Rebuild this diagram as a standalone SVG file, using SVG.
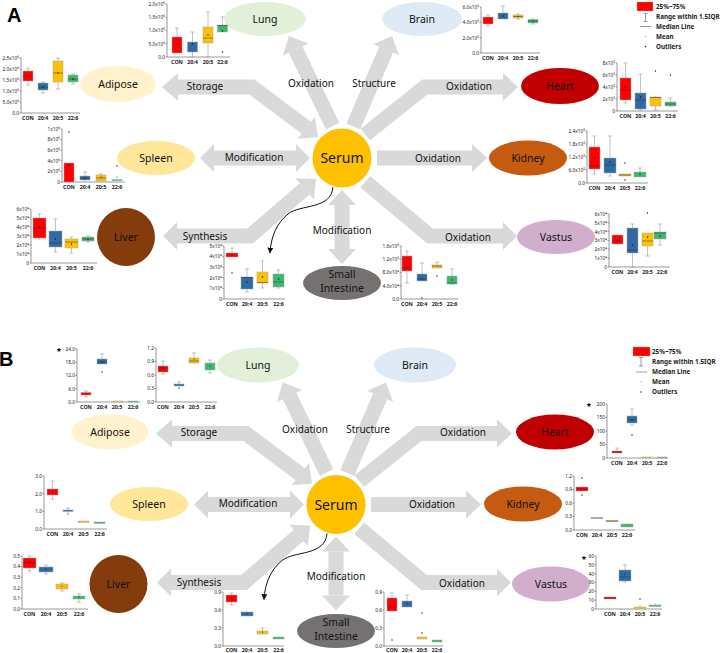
<svg xmlns="http://www.w3.org/2000/svg" width="721" height="653" viewBox="0 0 721 653">
<defs>
<marker id="ah" viewBox="0 0 10 10" refX="9" refY="5" markerWidth="6" markerHeight="6" markerUnits="userSpaceOnUse" orient="auto">
<path d="M0,0L10,5L0,10z" fill="#111"/>
</marker>
</defs>
<style>
text{font-family:"Noto Sans","DejaVu Sans",sans-serif}
.sh{fill:none;stroke:#d9d9d9;stroke-width:15;stroke-linejoin:miter;stroke-miterlimit:10}
.ah{fill:#d9d9d9}
.cv{fill:none;stroke:#111;stroke-width:1}
.lb{font-size:10px;fill:#111;text-anchor:middle}
.nl{font-size:10.5px;fill:#111;text-anchor:middle}
.sr{font-size:14px;fill:#111;text-anchor:middle}
.pl{font-family:"Liberation Sans",Arial,sans-serif;font-size:20px;font-weight:bold;fill:#000}
.ax{fill:none;stroke:#555;stroke-width:0.6}
.tk{font-size:4.8px;fill:#222;text-anchor:end}
.ct{font-size:5.3px;fill:#222;text-anchor:middle;font-weight:bold}
.w{fill:none;stroke:#9a9a9a;stroke-width:0.6}
.bx{stroke:#a8a8a8;stroke-width:0.5}
.c0{fill:#ff0000}.c1{fill:#2f6aa5}.c2{fill:#ffc000}.c3{fill:#3cb96b}
.md{stroke:#333;stroke-width:0.5}
.dt{fill:#111}
.lg{font-size:6.3px;font-weight:bold;fill:#222}
.st{font-size:6.5px;fill:#111;text-anchor:middle}
</style>
<rect width="721" height="653" fill="#fff"/>
<text class="pl" x="7" y="22">A</text>
<text class="pl" x="-1" y="366">B</text>

<g id="connectors-a">
<path class="sh" d="M306.2,127.8L252,87L178,87"/><polygon class="ah" points="162,87 178,73 178,101"/><polygon class="ah" points="318,137 297.6,138.8 314.8,116.8"/>
<path class="sh" d="M332.6,126L295.5,49.5"/><polygon class="ah" points="289,36 308.1,43.4 282.9,55.6"/>
<path class="sh" d="M353.3,126.5L386.1,49.8"/><polygon class="ah" points="392,36 399,55.3 373.2,44.3"/>
<path class="sh" d="M365.3,134.5L425,87L503,87"/><polygon class="ah" points="518,87 503,73 503,101"/>
<path class="sh" d="M214,158L296,158"/><polygon class="ah" points="200,158 214,144 214,172"/><polygon class="ah" points="310,158 296,144 296,172"/>
<path class="sh" d="M377,158L472,158"/><polygon class="ah" points="487,158 472,144 472,172"/>
<path class="sh" d="M365.2,181.8L430,236L503,236"/><polygon class="ah" points="517,236 503,222 503,250"/>
<path class="sh" d="M304.6,188.8L250,236L177,236"/><polygon class="ah" points="163,236 177,222 177,250"/><polygon class="ah" points="316,179 313.8,199.4 295.4,178.2"/>
<path class="sh" d="M342,205V249"/><polygon class="ah" points="342,190 328,205 356,205"/><polygon class="ah" points="342,264 328,249 356,249"/>
<path class="cv" d="M333,187C331,210 300,204 288,214C277,223 271,236 270,253" marker-end="url(#ah)"/>
<text class="lb" x="205" y="89.5">Storage</text>
<text class="lb" x="311" y="86.5">Oxidation</text>
<text class="lb" x="374" y="86.5">Structure</text>
<text class="lb" x="469" y="89.5">Oxidation</text>
<text class="lb" x="254" y="160.5">Modification</text>
<text class="lb" x="438" y="161.5">Oxidation</text>
<text class="lb" x="205" y="239.5">Synthesis</text>
<text class="lb" x="468" y="240.5">Oxidation</text>
<text class="lb" x="342" y="233.5">Modification</text>
</g>

<g id="connectors-b" transform="translate(-6,346.5)">
<path class="sh" d="M306.2,127.8L252,87L178,87"/><polygon class="ah" points="162,87 178,73 178,101"/><polygon class="ah" points="318,137 297.6,138.8 314.8,116.8"/>
<path class="sh" d="M332.6,126L295.5,49.5"/><polygon class="ah" points="289,36 308.1,43.4 282.9,55.6"/>
<path class="sh" d="M353.3,126.5L386.1,49.8"/><polygon class="ah" points="392,36 399,55.3 373.2,44.3"/>
<path class="sh" d="M365.3,134.5L425,87L503,87"/><polygon class="ah" points="518,87 503,73 503,101"/>
<path class="sh" d="M214,158L296,158"/><polygon class="ah" points="200,158 214,144 214,172"/><polygon class="ah" points="310,158 296,144 296,172"/>
<path class="sh" d="M377,158L472,158"/><polygon class="ah" points="487,158 472,144 472,172"/>
<path class="sh" d="M365.2,181.8L430,236L503,236"/><polygon class="ah" points="517,236 503,222 503,250"/>
<path class="sh" d="M304.6,188.8L250,236L177,236"/><polygon class="ah" points="163,236 177,222 177,250"/><polygon class="ah" points="316,179 313.8,199.4 295.4,178.2"/>
<path class="sh" d="M342,205V249"/><polygon class="ah" points="342,190 328,205 356,205"/><polygon class="ah" points="342,264 328,249 356,249"/>
<path class="cv" d="M333,187C331,210 300,204 288,214C277,223 271,236 270,253" marker-end="url(#ah)"/>
<text class="lb" x="205" y="89.5">Storage</text>
<text class="lb" x="311" y="86.5">Oxidation</text>
<text class="lb" x="374" y="86.5">Structure</text>
<text class="lb" x="469" y="89.5">Oxidation</text>
<text class="lb" x="254" y="160.5">Modification</text>
<text class="lb" x="438" y="161.5">Oxidation</text>
<text class="lb" x="205" y="239.5">Synthesis</text>
<text class="lb" x="468" y="240.5">Oxidation</text>
<text class="lb" x="342" y="233.5">Modification</text>
</g>

<!-- Nodes A -->
<g id="node-a-lung"><ellipse cx="265" cy="19" rx="41" ry="17" fill="#e2f0d9"/><text class="nl" x="265" y="22.7">Lung</text></g>
<g id="node-a-brain"><ellipse cx="422" cy="19" rx="40" ry="17" fill="#deebf7"/><text class="nl" x="422" y="22.7">Brain</text></g>
<g id="node-a-adipose"><ellipse cx="118" cy="84" rx="38" ry="18" fill="#fff2cc"/><text class="nl" x="118" y="87.7">Adipose</text></g>
<g id="node-a-spleen"><ellipse cx="156" cy="158" rx="39" ry="17" fill="#ffe699"/><text class="nl" x="156" y="161.7">Spleen</text></g>
<g id="node-a-liver"><circle cx="126" cy="237" r="29" fill="#843c0c"/><text class="nl" x="126" y="240.7">Liver</text></g>
<g id="node-a-heart"><ellipse cx="560" cy="86" rx="39" ry="18" fill="#c00000"/><text class="nl" x="560" y="89.7">Heart</text></g>
<g id="node-a-kidney"><ellipse cx="528" cy="158" rx="39" ry="17.5" fill="#c55a11"/><text class="nl" x="528" y="161.7">Kidney</text></g>
<g id="node-a-vastus"><ellipse cx="556" cy="237" rx="39" ry="17" fill="#d0aecc"/><text class="nl" x="556" y="240.7">Vastus</text></g>
<g id="node-a-small-intestine"><ellipse cx="342" cy="283" rx="39" ry="17" fill="#767171"/><text class="nl" x="342" y="278">Small</text><text class="nl" x="342" y="292">Intestine</text></g>
<g id="node-a-serum"><circle cx="342" cy="158" r="29.5" fill="#ffc000"/><text class="sr" x="342" y="163">Serum</text></g>

<!-- Nodes B -->
<g id="node-b-lung"><ellipse cx="258" cy="365" rx="41" ry="17.5" fill="#e2f0d9"/><text class="nl" x="258" y="368.7">Lung</text></g>
<g id="node-b-brain"><ellipse cx="415" cy="365" rx="41" ry="17.5" fill="#deebf7"/><text class="nl" x="415" y="368.7">Brain</text></g>
<g id="node-b-adipose"><ellipse cx="110" cy="432" rx="38.5" ry="17.5" fill="#fff2cc"/><text class="nl" x="110" y="435.7">Adipose</text></g>
<g id="node-b-spleen"><ellipse cx="149" cy="504" rx="39" ry="17" fill="#ffe699"/><text class="nl" x="149" y="507.7">Spleen</text></g>
<g id="node-b-liver"><circle cx="118.5" cy="584" r="29" fill="#843c0c"/><text class="nl" x="118.5" y="587.7">Liver</text></g>
<g id="node-b-heart"><ellipse cx="555" cy="432" rx="39" ry="17.5" fill="#c00000"/><text class="nl" x="555" y="435.7">Heart</text></g>
<g id="node-b-kidney"><ellipse cx="523" cy="504" rx="39" ry="17.5" fill="#c55a11"/><text class="nl" x="523" y="507.7">Kidney</text></g>
<g id="node-b-vastus"><ellipse cx="551" cy="584" rx="39" ry="17.5" fill="#d0aecc"/><text class="nl" x="551" y="587.7">Vastus</text></g>
<g id="node-b-small-intestine"><ellipse cx="336" cy="631" rx="39" ry="17" fill="#767171"/><text class="nl" x="336" y="626">Small</text><text class="nl" x="336" y="640">Intestine</text></g>
<g id="node-b-serum"><circle cx="336" cy="504.5" r="29.5" fill="#ffc000"/><text class="sr" x="336" y="509.5">Serum</text></g>

<!-- Charts A -->
<g id="chart-a-lung">
<path class="ax" d="M167,4V57H230M165.5,4h1.5M165.5,17.25h1.5M165.5,30.5h1.5M165.5,43.75h1.5M165.5,57h1.5"/>
<text class="tk" x="165" y="5.8">2.0x10⁶</text><text class="tk" x="165" y="19">1.5x10⁶</text><text class="tk" x="165" y="32.3">1.0x10⁶</text><text class="tk" x="165" y="45.5">5.0x10⁵</text><text class="tk" x="165" y="58.8">0.0</text>
<text class="ct" x="177" y="64">CON</text><text class="ct" x="192.5" y="64">20:4</text><text class="ct" x="208" y="64">20:5</text><text class="ct" x="222.5" y="64">22:6</text>
<path class="w" d="M177,28V37M175,28h4M192.5,32V57M190.5,32h4M190.5,57h4M208,12V57M206,12h4M206,57h4M222.5,17V25M220.5,17h4"/>
<rect class="bx c0" x="172" y="37" width="10" height="16"/><rect class="bx c1" x="187.5" y="42" width="10" height="10"/><rect class="bx c2" x="203" y="27" width="10" height="16"/><rect class="bx c3" x="217.5" y="25" width="10" height="7"/>
<path class="md" d="M203,38h10M217.5,25.5h10"/>
<g class="dt"><circle cx="177" cy="44" r="0.7"/><circle cx="192.5" cy="44" r="0.7"/><circle cx="208" cy="35" r="0.7"/><circle cx="222.5" cy="31" r="0.7"/><circle cx="222.5" cy="52" r="0.7"/></g>
</g>

<g id="chart-a-adipose">
<path class="ax" d="M21,58V113H80M19.5,58h1.5M19.5,69h1.5M19.5,80h1.5M19.5,91h1.5M19.5,102h1.5M19.5,113h1.5"/>
<text class="tk" x="19" y="59.8">2.5x10⁶</text><text class="tk" x="19" y="70.8">2.0x10⁶</text><text class="tk" x="19" y="81.8">1.5x10⁶</text><text class="tk" x="19" y="92.8">1.0x10⁶</text><text class="tk" x="19" y="103.8">5.0x10⁵</text><text class="tk" x="19" y="114.8">0.0</text>
<text class="ct" x="28" y="119.5">CON</text><text class="ct" x="43" y="119.5">20:4</text><text class="ct" x="58" y="119.5">20:5</text><text class="ct" x="73" y="119.5">22:6</text>
<path class="w" d="M28,68V85M26,68h4M26,85h4M43,82V93M41,82h4M41,93h4M58,58V89M56,58h4M56,89h4M73,74V84M71,74h4M71,84h4"/>
<rect class="bx c0" x="23" y="71" width="10" height="10"/><rect class="bx c1" x="38" y="83" width="10" height="7"/><rect class="bx c2" x="53" y="61" width="10" height="21"/><rect class="bx c3" x="68" y="75" width="10" height="7"/>
<path class="md" d="M23,76h10M38,87h10M53,73h10M68,79h10"/>
<g class="dt"><circle cx="28" cy="76" r="0.7"/><circle cx="43" cy="87" r="0.7"/><circle cx="58" cy="73" r="0.7"/><circle cx="73" cy="79" r="0.7"/></g>
</g>

<g id="chart-a-brain">
<path class="ax" d="M481,7V53H540M479.5,7h1.5M479.5,22.3h1.5M479.5,37.7h1.5M479.5,53h1.5"/>
<text class="tk" x="479" y="8.8">6.0x10⁵</text><text class="tk" x="479" y="24.1">4.0x10⁵</text><text class="tk" x="479" y="39.5">2.0x10⁵</text><text class="tk" x="479" y="54.8">0.0</text>
<text class="ct" x="488" y="59.5">CON</text><text class="ct" x="503" y="59.5">20:4</text><text class="ct" x="518" y="59.5">20:5</text><text class="ct" x="533" y="59.5">22:6</text>
<path class="w" d="M488,15V26M486,15h4M486,26h4M503,6V19M501,6h4M518,14V19M516,14h4M516,19h4M533,19V24M531,19h4M531,24h4"/>
<rect class="bx c0" x="483" y="17" width="10" height="7"/><rect class="bx c1" x="498" y="13" width="10" height="6"/><rect class="bx c2" x="513" y="15" width="10" height="3"/><rect class="bx c3" x="528" y="19.5" width="10" height="3.5"/>
<path class="md" d="M513,16.5h10M528,21h10"/>
<g class="dt"><circle cx="488" cy="21" r="0.7"/><circle cx="503" cy="16" r="0.7"/><circle cx="518" cy="16.5" r="0.6"/><circle cx="533" cy="21" r="0.6"/></g>
</g>

<g id="chart-a-heart">
<path class="ax" d="M617,63V111H678M615.5,63h1.5M615.5,75h1.5M615.5,87h1.5M615.5,99h1.5M615.5,111h1.5"/>
<text class="tk" x="615" y="64.8">8x10³</text><text class="tk" x="615" y="76.8">6x10³</text><text class="tk" x="615" y="88.8">4x10³</text><text class="tk" x="615" y="100.8">2x10³</text><text class="tk" x="615" y="112.8">0</text>
<text class="ct" x="625.5" y="117.5">CON</text><text class="ct" x="640.5" y="117.5">20:4</text><text class="ct" x="655.5" y="117.5">20:5</text><text class="ct" x="670.5" y="117.5">22:6</text>
<path class="w" d="M625.5,63V103M623.5,63h4M623.5,103h4M640.5,74V110M638.5,74h4M638.5,110h4M655.5,96V110M653.5,110h4M670.5,98V107M668.5,98h4"/>
<rect class="bx c0" x="620" y="78" width="11" height="22"/><rect class="bx c1" x="635" y="93" width="11" height="16"/><rect class="bx c2" x="650" y="97" width="11" height="9"/><rect class="bx c3" x="665" y="102" width="11" height="4"/>
<path class="md" d="M620,90h11M635,100h11M650,97.5h11M665,104h11"/>
<g class="dt"><circle cx="625.5" cy="87" r="0.7"/><circle cx="640.5" cy="97" r="0.7"/><circle cx="655.5" cy="71" r="0.7"/><circle cx="670.5" cy="75" r="0.7"/></g>
</g>

<g id="chart-a-spleen">
<path class="ax" d="M62,129V182H125M60.5,129h1.5M60.5,139.6h1.5M60.5,150.2h1.5M60.5,160.8h1.5M60.5,171.4h1.5M60.5,182h1.5"/>
<text class="tk" x="60" y="130.8">1x10⁶</text><text class="tk" x="60" y="141.4">8x10⁵</text><text class="tk" x="60" y="152">6x10⁵</text><text class="tk" x="60" y="162.6">4x10⁵</text><text class="tk" x="60" y="173.2">2x10⁵</text><text class="tk" x="60" y="183.8">0</text>
<text class="ct" x="69" y="188.5">CON</text><text class="ct" x="85" y="188.5">20:4</text><text class="ct" x="101" y="188.5">20:5</text><text class="ct" x="117" y="188.5">22:6</text>
<path class="w" d="M85,172V182M83,172h4M101,174V182M99,174h4"/>
<rect class="bx c0" x="64" y="163" width="10" height="19"/><rect class="bx c1" x="80" y="176" width="10" height="4"/><rect class="bx c2" x="96" y="175" width="10" height="6"/><rect class="bx c3" x="112" y="179.5" width="10" height="1.2"/>
<path class="md" d="M80,178h10M96,178h10"/>
<g class="dt"><circle cx="69" cy="165" r="0.7"/><circle cx="69" cy="132" r="0.7"/><circle cx="85" cy="178" r="0.6"/><circle cx="101" cy="177" r="0.6"/><circle cx="117" cy="166" r="0.7"/><circle cx="117" cy="177" r="0.6"/></g>
</g>

<g id="chart-a-liver">
<path class="ax" d="M31,209V263H97M29.5,209h1.5M29.5,218h1.5M29.5,227h1.5M29.5,236h1.5M29.5,245h1.5M29.5,254h1.5M29.5,263h1.5"/>
<text class="tk" x="29" y="210.8">6x10⁴</text><text class="tk" x="29" y="219.8">5x10⁴</text><text class="tk" x="29" y="228.8">4x10⁴</text><text class="tk" x="29" y="237.8">3x10⁴</text><text class="tk" x="29" y="246.8">2x10⁴</text><text class="tk" x="29" y="255.8">1x10⁴</text><text class="tk" x="29" y="264.8">0</text>
<text class="ct" x="39.5" y="269.5">CON</text><text class="ct" x="55.5" y="269.5">20:4</text><text class="ct" x="71.5" y="269.5">20:5</text><text class="ct" x="88" y="269.5">22:6</text>
<path class="w" d="M39.5,214V239M37.5,214h4M37.5,239h4M55.5,219V252M53.5,219h4M53.5,252h4M71.5,237V253M69.5,237h4M69.5,253h4M88,236V242M86,236h4M86,242h4"/>
<rect class="bx c0" x="33" y="218" width="13" height="20"/><rect class="bx c1" x="49" y="231" width="13" height="16"/><rect class="bx c2" x="65" y="239" width="13" height="9"/><rect class="bx c3" x="82" y="237" width="12" height="4"/>
<path class="md" d="M33,228h13M49,243h13M65,242h13M82,239h12"/>
<g class="dt"><circle cx="39.5" cy="227" r="0.7"/><circle cx="55.5" cy="239" r="0.7"/><circle cx="71.5" cy="244" r="0.7"/><circle cx="88" cy="239" r="0.6"/></g>
</g>

<g id="chart-a-small-intestine-1">
<path class="ax" d="M224,246V299H285M222.5,246h1.5M222.5,256.6h1.5M222.5,267.2h1.5M222.5,277.8h1.5M222.5,288.4h1.5M222.5,299h1.5"/>
<text class="tk" x="222" y="247.8">5x10⁴</text><text class="tk" x="222" y="258.4">4x10⁴</text><text class="tk" x="222" y="269">3x10⁴</text><text class="tk" x="222" y="279.6">2x10⁴</text><text class="tk" x="222" y="290.2">1x10⁴</text><text class="tk" x="222" y="300.8">0</text>
<text class="ct" x="232" y="305.5">CON</text><text class="ct" x="247" y="305.5">20:4</text><text class="ct" x="262.5" y="305.5">20:5</text><text class="ct" x="278.5" y="305.5">22:6</text>
<path class="w" d="M232,248V253M230,248h4M247,269V292M245,269h4M245,292h4M262.5,261V288M260.5,261h4M260.5,288h4M278.5,270V288M276.5,270h4M276.5,288h4"/>
<rect class="bx c0" x="226" y="253" width="12" height="4"/><rect class="bx c1" x="241" y="277" width="12" height="12"/><rect class="bx c2" x="257" y="272" width="11" height="11"/><rect class="bx c3" x="273" y="274" width="11" height="13"/>
<path class="md" d="M241,277.5h12M257,282.5h11M273,282h11"/>
<g class="dt"><circle cx="232" cy="255" r="0.6"/><circle cx="232" cy="273" r="0.7"/><circle cx="247" cy="282" r="0.7"/><circle cx="262.5" cy="277" r="0.7"/><circle cx="278.5" cy="279" r="0.7"/></g>
</g>

<g id="chart-a-small-intestine-2">
<path class="ax" d="M401,246V299H458M399.5,246h1.5M399.5,259.25h1.5M399.5,272.5h1.5M399.5,285.75h1.5M399.5,299h1.5"/>
<text class="tk" x="399" y="247.8">1.6x10⁵</text><text class="tk" x="399" y="261">1.2x10⁵</text><text class="tk" x="399" y="274.3">8.0x10⁴</text><text class="tk" x="399" y="287.5">4.0x10⁴</text><text class="tk" x="399" y="300.8">0.0</text>
<text class="ct" x="407" y="305.5">CON</text><text class="ct" x="422" y="305.5">20:4</text><text class="ct" x="437" y="305.5">20:5</text><text class="ct" x="452" y="305.5">22:6</text>
<path class="w" d="M407,251V283M405,251h4M405,283h4M422,263V274M420,263h4M437,262V268M435,262h4M452,269V284M450,269h4M450,284h4"/>
<rect class="bx c0" x="402" y="256" width="10" height="15"/><rect class="bx c1" x="417" y="274" width="10" height="7"/><rect class="bx c2" x="432" y="265" width="10" height="3"/><rect class="bx c3" x="447" y="276" width="10" height="8"/>
<path class="md" d="M402,268h10M417,279h10M432,266h10M447,283h10"/>
<g class="dt"><circle cx="407" cy="266" r="0.7"/><circle cx="422" cy="279" r="0.6"/><circle cx="422" cy="298" r="0.7"/><circle cx="437" cy="276" r="0.7"/><circle cx="452" cy="280" r="0.7"/></g>
</g>

<g id="chart-a-kidney">
<path class="ax" d="M587,131V183H648M585.5,131h1.5M585.5,144h1.5M585.5,157h1.5M585.5,170h1.5M585.5,183h1.5"/>
<text class="tk" x="585" y="132.8">2.4x10³</text><text class="tk" x="585" y="145.8">1.8x10³</text><text class="tk" x="585" y="158.8">1.2x10³</text><text class="tk" x="585" y="171.8">6.0x10²</text><text class="tk" x="585" y="184.8">0.0</text>
<text class="ct" x="594.5" y="189.5">CON</text><text class="ct" x="610" y="189.5">20:4</text><text class="ct" x="625" y="189.5">20:5</text><text class="ct" x="640" y="189.5">22:6</text>
<path class="w" d="M594.5,136V174M592.5,136h4M592.5,174h4M610,136V176M608,136h4M608,176h4M640,168V177M638,168h4"/>
<rect class="bx c0" x="589" y="147" width="11" height="22"/><rect class="bx c1" x="604" y="158" width="12" height="15"/><rect class="bx c2" x="619" y="174" width="12" height="2"/><rect class="bx c3" x="634" y="172" width="12" height="5"/>
<path class="md" d="M589,166h11M604,165h12M619,175h12"/>
<g class="dt"><circle cx="594.5" cy="158" r="0.7"/><circle cx="610" cy="162" r="0.7"/><circle cx="625" cy="163" r="0.7"/><circle cx="625" cy="180" r="0.7"/><circle cx="640" cy="174" r="0.7"/></g>
</g>

<g id="chart-a-vastus">
<path class="ax" d="M609,214V267H670M607.5,214h1.5M607.5,222.8h1.5M607.5,231.7h1.5M607.5,240.5h1.5M607.5,249.3h1.5M607.5,258.2h1.5M607.5,267h1.5"/>
<text class="tk" x="607" y="215.8">6x10⁴</text><text class="tk" x="607" y="224.6">5x10⁴</text><text class="tk" x="607" y="233.5">4x10⁴</text><text class="tk" x="607" y="242.3">3x10⁴</text><text class="tk" x="607" y="251.1">2x10⁴</text><text class="tk" x="607" y="260">1x10⁴</text><text class="tk" x="607" y="268.8">0</text>
<text class="ct" x="617.5" y="273.5">CON</text><text class="ct" x="632.5" y="273.5">20:4</text><text class="ct" x="647.5" y="273.5">20:5</text><text class="ct" x="662" y="273.5">22:6</text>
<path class="w" d="M632.5,224V267M630.5,224h4M630.5,267h4M647.5,233V256M645.5,256h4M660,224V245M658,224h4M658,245h4"/>
<rect class="bx c0" x="612" y="235" width="11" height="9"/><rect class="bx c1" x="627" y="228" width="11" height="25"/><rect class="bx c2" x="642" y="233" width="11" height="13"/><rect class="bx c3" x="654" y="232" width="12" height="7"/>
<path class="md" d="M612,241h11M627,250h11M642,241h11M654,233h12"/>
<g class="dt"><circle cx="617.5" cy="240" r="0.7"/><circle cx="632.5" cy="245" r="0.7"/><circle cx="647.5" cy="237" r="0.7"/><circle cx="647.5" cy="213" r="0.7"/><circle cx="660" cy="236" r="0.7"/></g>
</g>

<g id="legend-a">
<rect x="637" y="2" width="16" height="9" fill="#ff0000" stroke="#aaa" stroke-width="0.4"/>
<path d="M645.5,13.5V21.5M643.5,13.5h4M643.5,21.5h4M640,26.5h11" fill="none" stroke="#777" stroke-width="0.7"/>
<circle cx="645.5" cy="36.5" r="0.6" fill="#777"/><circle cx="645.5" cy="46.5" r="0.7" fill="#111"/>
<text class="lg" x="656" y="9">25%~75%</text><text class="lg" x="656" y="19">Range within 1.5IQR</text><text class="lg" x="656" y="29">Median Line</text><text class="lg" x="656" y="39">Mean</text><text class="lg" x="656" y="49">Outliers</text>
</g>

<!-- Charts B -->
<g id="chart-b-adipose">
<text class="st" x="59" y="352">★</text>
<path class="ax" d="M77,349V402H140M75.5,349h1.5M75.5,362.25h1.5M75.5,375.5h1.5M75.5,388.75h1.5M75.5,402h1.5"/>
<text class="tk" x="75" y="350.8">24.0</text><text class="tk" x="75" y="364">18.0</text><text class="tk" x="75" y="377.3">12.0</text><text class="tk" x="75" y="390.5">6.0</text><text class="tk" x="75" y="403.8">0.0</text>
<text class="ct" x="86" y="408.5">CON</text><text class="ct" x="102" y="408.5">20:4</text><text class="ct" x="117" y="408.5">20:5</text><text class="ct" x="133" y="408.5">22:6</text>
<path class="w" d="M86,391V397M84,391h4M84,397h4M102,354V359M100,354h4"/>
<rect class="bx c0" x="81" y="392.5" width="10" height="2.5"/><rect class="bx c1" x="97" y="359" width="10" height="5"/><rect class="bx c2" x="113" y="401" width="10" height="1"/><rect class="bx c3" x="128" y="401" width="10" height="1"/>
<path class="md" d="M97,362h10"/>
<g class="dt"><circle cx="86" cy="394" r="0.6"/><circle cx="102" cy="362" r="0.6"/><circle cx="102" cy="372" r="0.7"/></g>
</g>

<g id="chart-b-lung">
<path class="ax" d="M156,348V402H217M154.5,348h1.5M154.5,361.5h1.5M154.5,375h1.5M154.5,388.5h1.5M154.5,402h1.5"/>
<text class="tk" x="154" y="349.8">1.2</text><text class="tk" x="154" y="363.3">0.9</text><text class="tk" x="154" y="376.8">0.6</text><text class="tk" x="154" y="390.3">0.3</text><text class="tk" x="154" y="403.8">0.0</text>
<text class="ct" x="163" y="408.5">CON</text><text class="ct" x="179" y="408.5">20:4</text><text class="ct" x="194" y="408.5">20:5</text><text class="ct" x="210" y="408.5">22:6</text>
<path class="w" d="M163,361V374M161,361h4M161,374h4M179,382V388M177,382h4M194,353V364M192,353h4M210,360V373M208,360h4M208,373h4"/>
<rect class="bx c0" x="158" y="366" width="10" height="6"/><rect class="bx c1" x="174" y="384" width="10" height="2"/><rect class="bx c2" x="189" y="358" width="10" height="5"/><rect class="bx c3" x="205" y="363" width="10" height="7"/>
<path class="md" d="M158,368h10M189,361h10"/>
<g class="dt"><circle cx="163" cy="368" r="0.6"/><circle cx="179" cy="388.5" r="0.6"/><circle cx="194" cy="359" r="0.6"/><circle cx="210" cy="366" r="0.6"/></g>
</g>

<g id="chart-b-heart">
<text class="st" x="589" y="407">★</text>
<path class="ax" d="M607,404V458H668M605.5,404h1.5M605.5,417.5h1.5M605.5,431h1.5M605.5,444.5h1.5M605.5,458h1.5"/>
<text class="tk" x="605" y="405.8">200</text><text class="tk" x="605" y="419.3">150</text><text class="tk" x="605" y="432.8">100</text><text class="tk" x="605" y="446.3">50</text><text class="tk" x="605" y="459.8">0</text>
<text class="ct" x="617" y="464.5">CON</text><text class="ct" x="632" y="464.5">20:4</text><text class="ct" x="647" y="464.5">20:5</text><text class="ct" x="662" y="464.5">22:6</text>
<path class="w" d="M617,448V451M615,448h4M632,409V425M630,409h4M630,425h4"/>
<rect class="bx c0" x="612" y="451" width="10" height="2"/><rect class="bx c1" x="627" y="416" width="10" height="7"/><rect class="bx c2" x="642" y="457" width="10" height="1"/><rect class="bx c3" x="657" y="457" width="10" height="1"/>
<path class="md" d="M612,452h10M627,420h10"/>
<g class="dt"><circle cx="632" cy="420" r="0.6"/><circle cx="632" cy="435" r="0.7"/></g>
</g>

<g id="legend-b">
<rect x="633" y="347" width="17" height="9" fill="#ff0000" stroke="#aaa" stroke-width="0.4"/>
<path d="M641,357.5V366M639,357.5h4M639,366h4M636,372h11" fill="none" stroke="#777" stroke-width="0.7"/>
<circle cx="641" cy="382" r="0.6" fill="#777"/><circle cx="641" cy="392" r="0.7" fill="#111"/>
<text class="lg" x="652" y="354">25%~75%</text><text class="lg" x="652" y="364">Range within 1.5IQR</text><text class="lg" x="652" y="374">Median Line</text><text class="lg" x="652" y="384">Mean</text><text class="lg" x="652" y="394">Outliers</text>
</g>

<g id="chart-b-spleen">
<path class="ax" d="M44,476V529H107M42.5,476h1.5M42.5,493.7h1.5M42.5,511.3h1.5M42.5,529h1.5"/>
<text class="tk" x="42" y="477.8">3.0</text><text class="tk" x="42" y="495.5">2.0</text><text class="tk" x="42" y="513.1">1.0</text><text class="tk" x="42" y="530.8">0.0</text>
<text class="ct" x="52.5" y="535.5">CON</text><text class="ct" x="68" y="535.5">20:4</text><text class="ct" x="83.5" y="535.5">20:5</text><text class="ct" x="99.5" y="535.5">22:6</text>
<path class="w" d="M52.5,481V499M50.5,481h4M50.5,499h4M68,508V513M66,508h4"/>
<rect class="bx c0" x="47" y="489" width="11" height="6"/><rect class="bx c1" x="63" y="510" width="10" height="1.5"/><rect class="bx c2" x="78" y="521" width="11" height="1.5"/><rect class="bx c3" x="94" y="522" width="11" height="1.5"/>
<g class="dt"><circle cx="52.5" cy="492" r="0.6"/><circle cx="68" cy="514" r="0.6"/></g>
</g>

<g id="chart-b-liver">
<path class="ax" d="M22,556V609H88M20.5,556h1.5M20.5,566.6h1.5M20.5,577.2h1.5M20.5,587.8h1.5M20.5,598.4h1.5M20.5,609h1.5"/>
<text class="tk" x="20" y="557.8">0.5</text><text class="tk" x="20" y="568.4">0.4</text><text class="tk" x="20" y="579">0.3</text><text class="tk" x="20" y="589.6">0.2</text><text class="tk" x="20" y="600.2">0.1</text><text class="tk" x="20" y="610.8">0.0</text>
<text class="ct" x="29.5" y="615.5">CON</text><text class="ct" x="46" y="615.5">20:4</text><text class="ct" x="62" y="615.5">20:5</text><text class="ct" x="79" y="615.5">22:6</text>
<path class="w" d="M29.5,556V571M27.5,556h4M27.5,571h4M46,565V574M44,565h4M44,574h4M62,583V591M60,583h4M60,591h4M79,594V602M77,594h4M77,602h4"/>
<rect class="bx c0" x="23" y="558" width="13" height="10"/><rect class="bx c1" x="39" y="567" width="14" height="5"/><rect class="bx c2" x="56" y="584" width="12" height="5"/><rect class="bx c3" x="73" y="596" width="12" height="3"/>
<path class="md" d="M23,563h13"/>
<g class="dt"><circle cx="29.5" cy="562" r="0.6"/><circle cx="46" cy="569" r="0.6"/><circle cx="62" cy="586" r="0.6"/><circle cx="79" cy="597" r="0.6"/></g>
</g>

<g id="chart-b-small-intestine-1">
<path class="ax" d="M223,592V646H284M221.5,592h1.5M221.5,610h1.5M221.5,628h1.5M221.5,646h1.5"/>
<text class="tk" x="221" y="593.8">0.9</text><text class="tk" x="221" y="611.8">0.6</text><text class="tk" x="221" y="629.8">0.3</text><text class="tk" x="221" y="647.8">0.0</text>
<text class="ct" x="231.5" y="652.3">CON</text><text class="ct" x="247" y="652.3">20:4</text><text class="ct" x="262.5" y="652.3">20:5</text><text class="ct" x="278.5" y="652.3">22:6</text>
<path class="w" d="M231.5,593V605M229.5,593h4M229.5,605h4M247,611V616M262.5,628V635M260.5,628h4"/>
<rect class="bx c0" x="226" y="595" width="11" height="7"/><rect class="bx c1" x="241" y="612" width="12" height="4"/><rect class="bx c2" x="257" y="631" width="11" height="3"/><rect class="bx c3" x="273" y="637" width="11" height="2"/>
<g class="dt"><circle cx="231.5" cy="598" r="0.6"/><circle cx="247" cy="614" r="0.6"/><circle cx="262.5" cy="632" r="0.6"/></g>
</g>

<g id="chart-b-small-intestine-2">
<path class="ax" d="M384,592V646H443M382.5,592h1.5M382.5,610h1.5M382.5,628h1.5M382.5,646h1.5"/>
<text class="tk" x="382" y="593.8">0.9</text><text class="tk" x="382" y="611.8">0.6</text><text class="tk" x="382" y="629.8">0.3</text><text class="tk" x="382" y="647.8">0.0</text>
<text class="ct" x="392" y="652.3">CON</text><text class="ct" x="407" y="652.3">20:4</text><text class="ct" x="422" y="652.3">20:5</text><text class="ct" x="437" y="652.3">22:6</text>
<path class="w" d="M392,593V598M390,593h4M407,595V601M405,595h4"/>
<rect class="bx c0" x="387" y="598" width="10" height="13"/><rect class="bx c1" x="402" y="601" width="10" height="6"/><rect class="bx c2" x="417" y="637" width="10" height="2"/><rect class="bx c3" x="432" y="640" width="10" height="2"/>
<path class="md" d="M387,607h10"/>
<g class="dt"><circle cx="392" cy="640" r="0.7"/><circle cx="407" cy="603" r="0.6"/><circle cx="422" cy="613" r="0.7"/><circle cx="422" cy="633" r="0.7"/></g>
</g>

<g id="chart-b-kidney">
<path class="ax" d="M574,476V530H635M572.5,476h1.5M572.5,489.5h1.5M572.5,503h1.5M572.5,516.5h1.5M572.5,530h1.5"/>
<text class="tk" x="572" y="477.8">1.2</text><text class="tk" x="572" y="491.3">0.9</text><text class="tk" x="572" y="504.8">0.6</text><text class="tk" x="572" y="518.3">0.3</text><text class="tk" x="572" y="531.8">0.0</text>
<text class="ct" x="582" y="536.5">CON</text><text class="ct" x="597" y="536.5">20:4</text><text class="ct" x="612" y="536.5">20:5</text><text class="ct" x="627" y="536.5">22:6</text>
<path class="w" d="M627,523V527"/>
<rect class="bx c0" x="576" y="487" width="12" height="4"/><rect class="bx c1" x="591" y="517.5" width="12" height="1"/><rect class="bx c2" x="606" y="520.5" width="12" height="1"/><rect class="bx c3" x="621" y="524" width="12" height="3"/>
<path class="md" d="M576,489h12M606,521h12"/>
<g class="dt"><circle cx="582" cy="478" r="0.7"/><circle cx="582" cy="495" r="0.7"/></g>
</g>

<g id="chart-b-vastus">
<text class="st" x="584" y="560">★</text>
<path class="ax" d="M596,556V609H662M594.5,556h1.5M594.5,564.8h1.5M594.5,573.7h1.5M594.5,582.5h1.5M594.5,591.3h1.5M594.5,600.2h1.5M594.5,609h1.5"/>
<text class="tk" x="594" y="557.8">60</text><text class="tk" x="594" y="566.6">50</text><text class="tk" x="594" y="575.5">40</text><text class="tk" x="594" y="584.3">30</text><text class="tk" x="594" y="593.1">20</text><text class="tk" x="594" y="602">10</text><text class="tk" x="594" y="610.8">0</text>
<text class="ct" x="610" y="615.5">CON</text><text class="ct" x="625" y="615.5">20:4</text><text class="ct" x="640" y="615.5">20:5</text><text class="ct" x="655" y="615.5">22:6</text>
<path class="w" d="M625,565V582M623,565h4M623,582h4M640,605V609M655,603V607"/>
<rect class="bx c0" x="604" y="597" width="12" height="2"/><rect class="bx c1" x="619" y="570" width="12" height="11"/><rect class="bx c2" x="634" y="607" width="12" height="2"/><rect class="bx c3" x="649" y="605" width="12" height="1.5"/>
<path class="md" d="M604,598h12M619,577h12"/>
<g class="dt"><circle cx="625" cy="574" r="0.6"/><circle cx="640" cy="599" r="0.7"/></g>
</g>
</svg>
